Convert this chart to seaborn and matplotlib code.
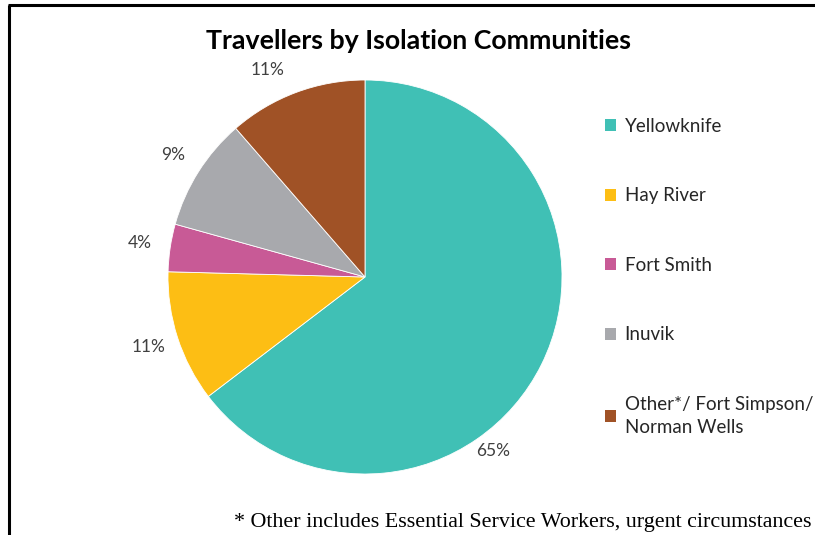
import numpy as np
import matplotlib
matplotlib.use("Agg")
import matplotlib.pyplot as plt
import seaborn as sns
from matplotlib.lines import Line2D

sns.set_theme(style="white")
plt.rcParams['font.family'] = ['Lato', 'DejaVu Sans']

categories = ["Yellowknife", "Hay River", "Fort Smith", "Inuvik",
              "Other*/ Fort Simpson/\nNorman Wells"]
values = [64.7, 10.8, 3.9, 9.3, 11.4]
pct_labels = ["65%", "11%", "4%", "9%", "11%"]
colors = ["#40C0B5", "#FDBE14", "#C85A96", "#A8A9AD", "#A05226"]

W, H = 815, 535
fig = plt.figure(figsize=(W / 100, H / 100), dpi=100)
fig.patch.set_facecolor("white")

cx, cy, r = 365, 277, 197
ax = fig.add_axes([(cx - r) / W, (H - cy - r) / H, 2 * r / W, 2 * r / H])
wedges, texts = ax.pie(values, labels=pct_labels, colors=colors, startangle=90,
                       counterclock=False, labeldistance=1.155,
                       wedgeprops=dict(linewidth=0.6, edgecolor="white"),
                       textprops=dict(fontsize=12.5, color="#404040"))
ax.set_xlim(-1, 1)
ax.set_ylim(-1, 1)
ax.set_aspect("equal")
# Excel moved the big-slice label lower along the rim, and the last one a bit left
ang = np.deg2rad(-53.6)
texts[0].set_position((1.1 * np.cos(ang), 1.1 * np.sin(ang)))
ang = np.deg2rad(115.2)
texts[4].set_position((1.16 * np.cos(ang), 1.16 * np.sin(ang)))
for t in texts:
    t.set_ha("center")
    t.set_va("center")

fig.text(419 / W, 1 - 41 / H, "Travellers by Isolation Communities",
         ha="center", va="center", fontsize=19.3, fontweight="bold", color="black")

handles = [plt.Rectangle((0, 0), 1, 1, facecolor=c, edgecolor="none") for c in colors]
leg = fig.legend(handles, categories, loc="upper left",
                 bbox_to_anchor=(588 / W, 1 - 101 / H), frameon=False,
                 fontsize=13.5, labelspacing=2.8, handlelength=0.6,
                 handleheight=0.6, handletextpad=0.45, labelcolor="#262626")
leg.get_texts()[4].set_linespacing(1.45)

fig.text(812 / W, 1 - 523 / H,
         "* Other includes Essential Service Workers, urgent circumstances",
         ha="right", va="center", fontsize=15.8,
         family=["Liberation Serif", "DejaVu Serif"], color="black")

fig.add_artist(Line2D([9 / W, 9 / W], [0, 1 - 5 / H], color="black", lw=2.2,
                      transform=fig.transFigure, solid_capstyle="butt"))
fig.add_artist(Line2D([8 / W, 1], [1 - 5 / H, 1 - 5 / H], color="black", lw=2.2,
                      transform=fig.transFigure, solid_capstyle="butt"))

fig.savefig("out.png", dpi=100, facecolor="white")
